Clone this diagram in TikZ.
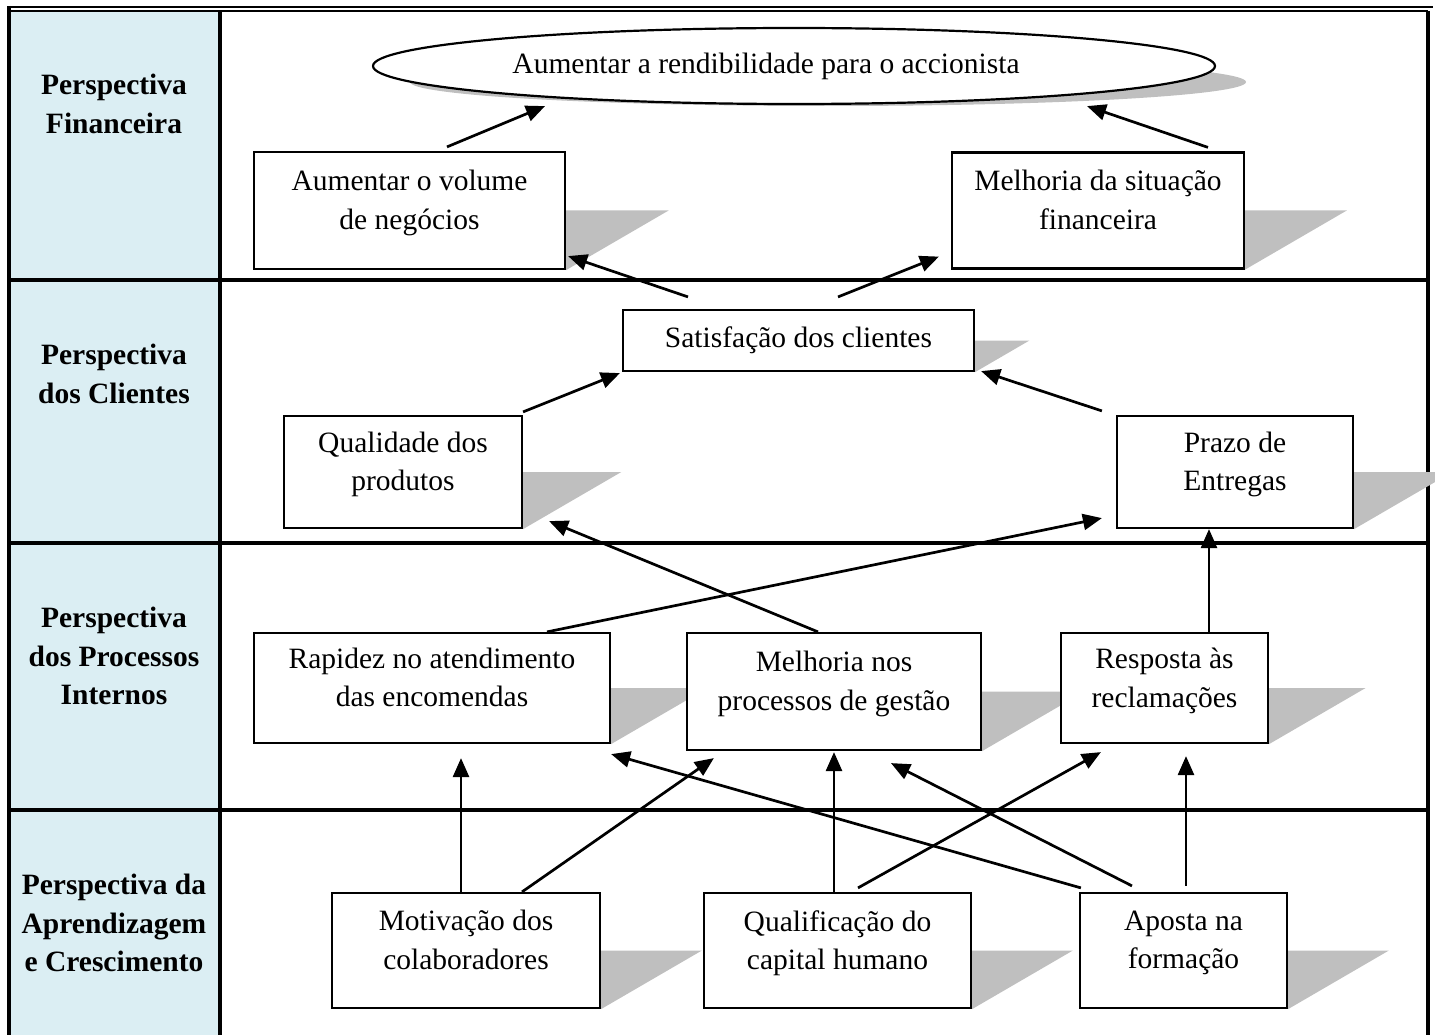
\documentclass[tikz,border=0pt]{standalone}
\usepackage{fontspec}
\setmainfont{Liberation Serif}
\usetikzlibrary{arrows.meta,shapes.geometric,calc}
\definecolor{colfill}{HTML}{DBEEF3}
\definecolor{sdwgray}{HTML}{BFBFBF}
\pgfdeclarelayer{bg}
\pgfsetlayers{bg,main}

\begin{document}
\begin{tikzpicture}[x=1pt, y=-1pt,
    font=\fontsize{29.5}{38.5}\selectfont,
    box/.style={rectangle, draw=black, line width=2.2pt, fill=white, align=center, inner sep=4pt},
    twoline/.style={box, text depth=21pt},
    goalbox/.style={ellipse, draw=black, line width=2.2pt, fill=white, minimum width=842pt, minimum height=76pt, inner sep=2pt},
    lbl/.style={align=center, font=\fontsize{29.5}{38.5}\selectfont\bfseries},
    sdw/.style={fill=sdwgray},
    frame/.style={line width=3.4pt},
    arr/.style={-{Triangle[length=19pt,width=16pt]}, line width=2.7pt},
  ]
  \useasboundingbox (0,0) rectangle (1435,1035);

  % table frame
  \begin{pgfonlayer}{bg}
    \fill[colfill] (9,10) rectangle (220,1035);
    \draw[line width=1.8pt] (7,7) -- (1433,7);
    \draw[line width=1.8pt] (9,11) -- (1428,11);
    \draw[frame] (9,6) -- (9,1035);
    \draw[frame] (1428,11) -- (1428,1035);
    \draw[frame] (220,11) -- (220,1035);
    \foreach \yy in {280,543,810}
      \draw[frame] (7.3,\yy) -- (1429.7,\yy);
  \end{pgfonlayer}

  % perspectives
  \node[lbl] (pfin) at (114,104) {Perspectiva\\Financeira};
  \node[lbl] (pcli) at (114,374) {Perspectiva\\dos Clientes};
  \node[lbl] (pproc) at (114,656) {Perspectiva\\dos Processos\\Internos};
  \node[lbl] (papr) at (114,923) {Perspectiva da\\Aprendizagem\\e Crescimento};

  % objectives
  \node[goalbox] (goal) at (794,66) {Aumentar a rendibilidade para o accionista\rule{56pt}{0pt}};
  \node[twoline, minimum width=311pt, minimum height=117pt] (volume) at (409.5,210.5) {Aumentar o volume\\de negócios};
  \node[twoline, minimum width=292pt, minimum height=116pt] (financas) at (1098,210.5) {Melhoria da situação\\financeira};
  \node[box, minimum width=351pt, minimum height=61pt] (satisf) at (798.5,340.5) {Satisfação dos clientes};
  \node[twoline, minimum width=238pt, minimum height=112pt] (qualidade) at (403,472) {Qualidade dos\\produtos};
  \node[twoline, minimum width=236pt, minimum height=112pt] (prazo) at (1235,472) {Prazo de\\Entregas};
  \node[twoline, minimum width=356pt, minimum height=110pt] (rapidez) at (432,688) {Rapidez no atendimento\\das encomendas};
  \node[twoline, minimum width=294pt, minimum height=117pt] (gestao) at (834,691.5) {Melhoria nos\\processos de gestão};
  \node[twoline, minimum width=207pt, minimum height=110pt] (resposta) at (1164.5,688) {Resposta às\\reclamações};
  \node[twoline, minimum width=268pt, minimum height=115pt] (motivacao) at (466,950.5) {Motivação dos\\colaboradores};
  \node[twoline, minimum width=267pt, minimum height=115pt] (capital) at (837.5,950.5) {Qualificação do\\capital humano};
  \node[twoline, minimum width=207pt, minimum height=115pt] (formacao) at (1183.5,950.5) {Aposta na\\formação};

  % shadows
  \begin{pgfonlayer}{bg}
    \fill[sdw] ($(goal.center)+(34,16)$) ellipse [x radius=418pt, y radius=24pt];
    \foreach \bx in {volume,financas,satisf,qualidade,prazo,rapidez,gestao,resposta,motivacao,capital,formacao}
      \fill[sdw] let \p1=(\bx.east), \p2=(\bx.south east) in
        (\p1) -- ({\x1+1.72*(\y1-\y2)},\y1) -- (\p2) -- cycle;
  \end{pgfonlayer}

  % links
  \draw[arr] ([xshift=37.5pt,yshift=4pt]volume.north) -- ([xshift=-249pt,yshift=-1pt]goal.south);
  \draw[arr] ([xshift=110pt,yshift=4pt]financas.north) -- ([xshift=293pt,yshift=-1pt]goal.south);
  \draw[arr] ([xshift=-110.5pt,yshift=12pt]satisf.north) -- ([xshift=2pt,yshift=14pt]volume.south east);
  \draw[arr] ([xshift=39.5pt,yshift=12pt]satisf.north) -- ([xshift=-12pt,yshift=13pt]financas.south west);
  \draw[arr] ([yshift=3pt]qualidade.north east) -- ([xshift=-2pt,yshift=-1pt]satisf.south west);
  \draw[arr] ([xshift=-14pt,yshift=4pt]prazo.north west) -- ([xshift=6pt,yshift=1pt]satisf.south east);
  \draw[arr] ([xshift=-16pt]gestao.north) -- ([xshift=26pt,yshift=8pt]qualidade.south east);
  \draw[arr] ([xshift=115pt]rapidez.north) -- ([xshift=-14pt,yshift=11pt]prazo.south west);
  \draw[arr] ([xshift=44.5pt]resposta.north) -- ([xshift=-26pt]prazo.south);
  \draw[arr] ([xshift=-5pt]motivacao.north) -- ([xshift=29pt,yshift=-14pt]rapidez.south);
  \draw[arr] ([xshift=56pt]motivacao.north) -- ([xshift=28pt,yshift=-7pt]gestao.south west);
  \draw[arr] ([xshift=-3.5pt]capital.north) -- ([yshift=-1pt]gestao.south);
  \draw[arr] ([xshift=20.5pt,yshift=4pt]capital.north) -- ([xshift=41pt,yshift=-8pt]resposta.south west);
  \draw[arr] ([xshift=2pt,yshift=4pt]formacao.north west) -- ([yshift=-10pt]rapidez.south east);
  \draw[arr] ([xshift=-51.5pt,yshift=6pt]formacao.north) -- ([xshift=57pt,yshift=-12pt]gestao.south);
  \draw[arr] ([xshift=2.5pt,yshift=6pt]formacao.north) -- ([xshift=21.5pt,yshift=-12pt]resposta.south);
\end{tikzpicture}
\end{document}
